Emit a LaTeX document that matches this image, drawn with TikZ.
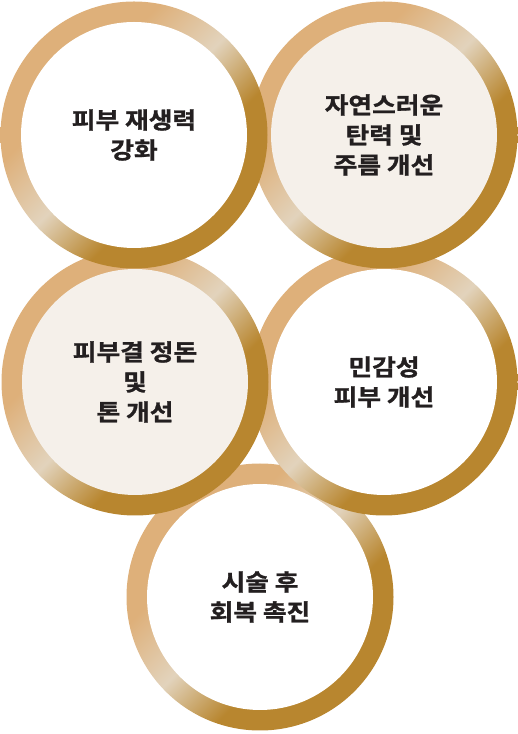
\documentclass[tikz,border=0pt]{standalone}
\usepackage{fontspec}
\newfontfamily\krfont{Noto Sans CJK KR Bold}[FakeStretch=1.12, FakeBold=1.2]
\usetikzlibrary{positioning}

\definecolor{ringtan}{HTML}{DEB07A}
\definecolor{ringpale}{HTML}{E2D3BC}
\definecolor{ringdark}{HTML}{B8862F}
\definecolor{cream}{HTML}{F5F0EA}
\definecolor{textgray}{HTML}{231F20}

\pgfdeclarehorizontalshading{ringgold}{100bp}{color(0bp)=(ringtan); color(36bp)=(ringtan); color(49bp)=(ringpale); color(61bp)=(ringdark); color(100bp)=(ringdark)}

\begin{document}
\begin{tikzpicture}[
            node distance = 250pt,
            on grid,
            ring/.style = {
                circle,
                minimum size = 267pt,
                inner sep = 0pt,
                shade,
                shading = ringgold,
                shading angle = -45,
                path picture = {\fill[#1] (path picture bounding box.center) circle (113pt);},
                align = center,
                text = textgray,
                font = \krfont\fontsize{23pt}{30pt}\selectfont
            },
            ring/.default = white
        ]

        \useasboundingbox (0,0) rectangle (518pt,734pt);

        % bottom row first, top row last
        \node[ring] (recovery) at (260pt,137pt) {시술 후\\회복 촉진};
        \node[ring] (soothing) [above right=215pt and 124pt of recovery] {민감성\\피부 개선};
        \node[ring=cream] (texture) [left=249pt of soothing] {피부결 정돈\\및\\톤 개선};
        \node[ring=cream] (firming) [above=247pt of soothing] {자연스러운\\탄력 및\\주름 개선};
        \node[ring] (renewal) [left=250pt of firming] {피부 재생력\\강화};

    \end{tikzpicture}
\end{document}
